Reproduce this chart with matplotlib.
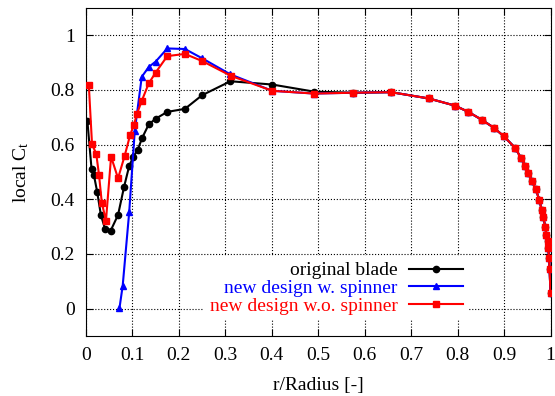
import matplotlib.pyplot as plt

plt.rcParams['font.family'] = ['Liberation Serif', 'DejaVu Serif']
plt.rcParams['mathtext.fontset'] = 'custom'
plt.rcParams['mathtext.rm'] = 'Liberation Serif'
plt.rcParams['mathtext.it'] = 'Liberation Serif'

# outer part shared by all three designs (r/R, Ct)
outer_r = [0.401, 0.491, 0.575, 0.657, 0.738, 0.794, 0.823, 0.853, 0.878, 0.900,
           0.924, 0.937, 0.946, 0.952, 0.960, 0.968, 0.976, 0.981, 0.984, 0.989,
           0.991, 0.994, 0.995, 0.997, 0.998, 1.0]
outer_ct = [0.797, 0.787, 0.790, 0.792, 0.769, 0.743, 0.720, 0.690, 0.662, 0.630,
            0.588, 0.550, 0.523, 0.497, 0.467, 0.438, 0.398, 0.361, 0.336, 0.300,
            0.270, 0.246, 0.222, 0.185, 0.145, 0.057]

orig_r = [0.003, 0.012, 0.017, 0.024, 0.032, 0.041, 0.053, 0.069, 0.082, 0.093,
          0.102, 0.111, 0.121, 0.135, 0.150, 0.175, 0.213, 0.250, 0.311,
          0.401, 0.491]
orig_ct = [0.686, 0.510, 0.489, 0.428, 0.343, 0.292, 0.285, 0.343, 0.446, 0.522,
           0.556, 0.580, 0.625, 0.674, 0.695, 0.720, 0.731, 0.781, 0.832,
           0.820, 0.794]

spin_r = [0.072, 0.079, 0.093, 0.105, 0.120, 0.135, 0.150, 0.175, 0.213, 0.250, 0.311]
spin_ct = [0.001, 0.084, 0.353, 0.651, 0.848, 0.884, 0.904, 0.952, 0.950, 0.916, 0.857]

nospin_r = [0.006, 0.013, 0.022, 0.028, 0.034, 0.043, 0.054, 0.069, 0.083, 0.095,
            0.103, 0.110, 0.120, 0.135, 0.150, 0.175, 0.213, 0.250, 0.313]
nospin_ct = [0.820, 0.601, 0.567, 0.490, 0.388, 0.322, 0.556, 0.477, 0.558, 0.635,
             0.672, 0.714, 0.760, 0.824, 0.864, 0.924, 0.932, 0.906, 0.851]

fig = plt.figure(figsize=(5.55, 3.96), dpi=100)
ax = fig.add_axes([86/555, 1 - 336/396, 464.5/555, 328/396])

ax.plot(orig_r + [r for r in outer_r if r > 0.5], orig_ct + [c for r, c in zip(outer_r, outer_ct) if r > 0.5],
        color='black', marker='o', ms=4.5, lw=1.5, label='original blade', zorder=3)
ax.plot(spin_r + outer_r, spin_ct + outer_ct,
        color='blue', marker='^', ms=5, lw=1.5, label='new design w. spinner', zorder=4)
ax.plot(nospin_r + outer_r, nospin_ct + outer_ct,
        color='red', marker='s', ms=5, lw=1.5, label='new design w.o. spinner', zorder=5)

ax.set_xlim(0, 1.0)
ax.set_ylim(-0.1, 1.1)
ax.set_xticks([i / 10 for i in range(11)])
ax.set_xticklabels(['0', '0.1', '0.2', '0.3', '0.4', '0.5', '0.6', '0.7', '0.8', '0.9', '1'])
ax.set_yticks([0, 0.2, 0.4, 0.6, 0.8, 1.0])
ax.set_yticklabels(['0', '0.2', '0.4', '0.6', '0.8', '1'])
ax.tick_params(direction='in', top=True, right=True, labelsize=14, length=5, pad=8)
ax.grid(True, color='black', linestyle=':', linewidth=0.8)
ax.set_axisbelow(True)

ax.set_xlabel('r/Radius [-]', fontsize=14, labelpad=9.5)
ax.set_ylabel('local C$_\\mathrm{t}$', fontsize=14, labelpad=14)

leg = ax.legend(loc='lower right', bbox_to_anchor=(0.845, 0.018), markerfirst=False,
                labelcolor='linecolor', fontsize=14, frameon=True, framealpha=1,
                edgecolor='none', facecolor='white', handlelength=2.8,
                handletextpad=0.55, labelspacing=0.0, borderpad=0.3, fancybox=False)
leg.set_zorder(2)

fig.savefig('out.png', dpi=100)
